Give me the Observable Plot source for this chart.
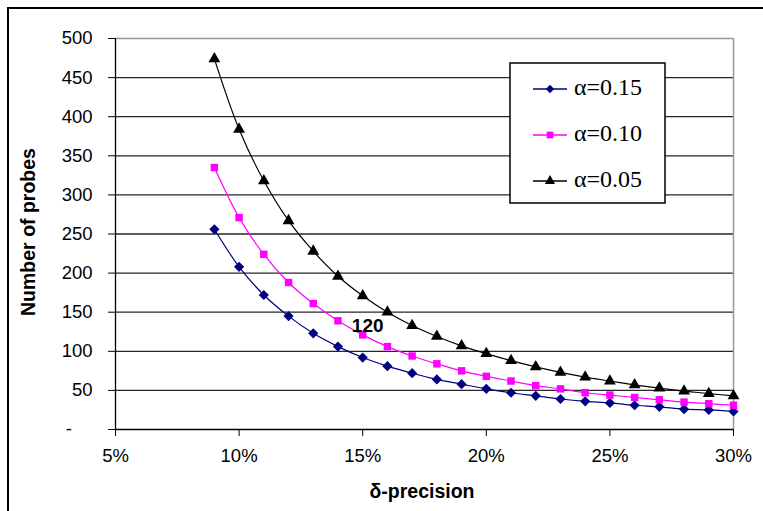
<!DOCTYPE html>
<html><head><meta charset="utf-8">
<script src="https://cdn.jsdelivr.net/npm/d3@7"></script>
<script src="https://cdn.jsdelivr.net/npm/@observablehq/plot@0.6"></script>
<style>
html,body{margin:0;padding:0;background:#fff;}
#wrap{position:relative;width:763px;height:511px;overflow:hidden;font-family:"Liberation Sans",Arial,sans-serif;}
#wrap svg{position:absolute;left:0;top:0;}
#frame{position:absolute;left:7px;top:7px;width:800px;height:600px;border-left:2px solid #000;border-top:2px solid #000;}
</style></head><body><div id="wrap"><div id="frame"></div></div>
<script>
const deltas = [0.09,0.10,0.11,0.12,0.13,0.14,0.15,0.16,0.17,0.18,0.19,0.20,0.21,0.22,0.23,0.24,0.25,0.26,0.27,0.28,0.29,0.30];
const alpha15 = [256,208,172,145,123,106,92,81,72,64,58,52,47,43,39,36,34,31,29,26,25,23];
const alpha10 = [335,271,224,188,161,139,121,106,94,84,75,68,62,56,52,47,44,41,38,35,33,31];
const alpha05 = [474,384,318,267,228,196,171,150,133,119,107,97,88,80,73,67,62,57,53,49,46,43];
const seriesNames = ["α=0.15","α=0.10","α=0.05"];
const seriesColors = ["#000080","#FF00FF","#000000"];
const seriesSymbols = ["diamond2","square","triangle"];
const xTicks = [0.05,0.10,0.15,0.20,0.25,0.30];
const yTicks = [0,50,100,150,200,250,300,350,400,450,500];
const gridValues = [50,100,150,200,250,300,350,400,450];
const xTitle = "δ-precision";
const yTitle = "Number of probes";
const annotation = {delta:0.15, n:121, text:"120"};

const seriesValues = [alpha15, alpha10, alpha05];
const rows = [];
seriesValues.forEach((vals, s) => vals.forEach((n, i) => rows.push({series: seriesNames[s], delta: deltas[i], n})));

const lineMarks = [];
seriesNames.forEach((name, s) => {
  const d = rows.filter(r => r.series === name);
  lineMarks.push(Plot.line(d, {x:"delta", y:"n", stroke: seriesColors[s], strokeWidth:1.2, curve:"catmull-rom"}));
  lineMarks.push(Plot.dot(d, {x:"delta", y:"n", symbol: () => seriesSymbols[s], fill: seriesColors[s], stroke:"none", r: s===0 ? 4.6 : (s===1 ? 4.2 : 4.4)}));
});

const chart = Plot.plot({
  width: 763, height: 511,
  marginLeft: 115, marginRight: 30, marginTop: 38, marginBottom: 82,
  style: {fontFamily: '"Liberation Sans", Arial, sans-serif', fontSize: "18.5px", color: "#000", background: "transparent", overflow: "visible"},
  x: {domain: [0.05, 0.30]},
  y: {domain: [0, 500]},
  marks: [
    Plot.ruleY(gridValues, {stroke: "#000", strokeWidth: 1.3, strokeOpacity: 0.85}),
    Plot.ruleY([500], {stroke: "#999", strokeWidth: 1.5}),
    Plot.ruleX([0.30], {stroke: "#999", strokeWidth: 1.5}),
    Plot.axisX({ticks: xTicks, tickFormat: d => Math.round(d*100) + "%", tickSize: 7, tickPadding: 12, label: null, stroke: "#000", fontSize: 18.5}),
    Plot.axisY({ticks: yTicks, tickFormat: d => d === 0 ? "-\u00a0\u00a0\u00a0\u00a0" : String(d), tickSize: 7, tickPadding: 16, label: null, stroke: "#000", fontSize: 18.5}),
    Plot.ruleX([0.05], {stroke: "#000", strokeWidth: 1.3}),
    Plot.ruleY([0], {stroke: "#000", strokeWidth: 1.3}),
    ...lineMarks,
    Plot.text([annotation], {x: "delta", y: "n", text: "text", dx: 5, dy: -9, fontWeight: "bold", fontSize: 19, fill: "#000"})
  ]
});
document.getElementById("wrap").appendChild(chart);

// overlay: titles and legend
const ov = d3.select("#wrap").append("svg").attr("width", 763).attr("height", 511).style("pointer-events","none");
ov.append("text").attr("x", 422).attr("y", 493).attr("text-anchor","middle").attr("dominant-baseline","middle")
  .attr("font-family",'"Liberation Sans", Arial, sans-serif').attr("font-weight","bold").attr("font-size",19.5).text(xTitle);
ov.append("text").attr("transform","translate(30,232) rotate(-90)").attr("text-anchor","middle").attr("dominant-baseline","middle")
  .attr("font-family",'"Liberation Sans", Arial, sans-serif').attr("font-weight","bold").attr("font-size",19.5).text(yTitle);

const lg = ov.append("g");
lg.append("rect").attr("x",510).attr("y",63).attr("width",155).attr("height",140).attr("fill","#fff").attr("stroke","#000").attr("stroke-width",1.5);
const d3sym = {diamond2: d3.symbolDiamond2, square: d3.symbolSquare, triangle: d3.symbolTriangle};
seriesNames.forEach((name, s) => {
  const cy = 89 + s*46;
  lg.append("line").attr("x1",533).attr("x2",567).attr("y1",cy).attr("y2",cy).attr("stroke",seriesColors[s]).attr("stroke-width",1.3);
  lg.append("path").attr("transform",`translate(550,${cy})`).attr("d", d3.symbol(d3sym[seriesSymbols[s]], 45)()).attr("fill",seriesColors[s]);
  lg.append("text").attr("x",574).attr("y",cy).attr("dominant-baseline","middle")
    .attr("font-family",'"Liberation Serif", "Times New Roman", serif').attr("font-size",24).attr("fill","#000").text(name);
});
</script>
</body></html>
